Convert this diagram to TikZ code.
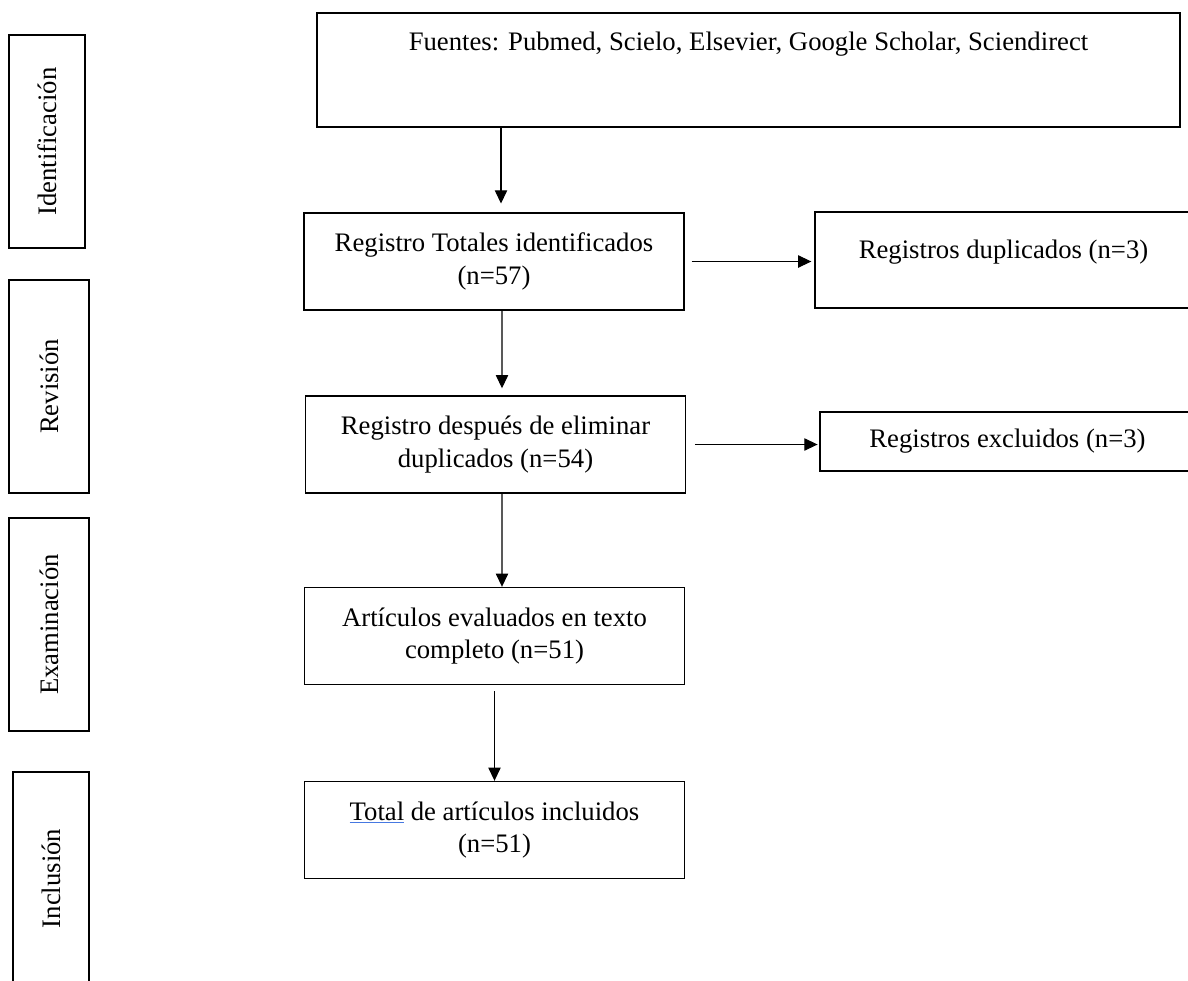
\documentclass[tikz,border=0pt]{standalone}
\usepackage{fontspec}
\setmainfont{Liberation Serif}
\usepackage{xcolor}
\usepackage{tikz}
\usetikzlibrary{arrows.meta}
\definecolor{subrayado}{RGB}{70,120,225}

\begin{document}
\begin{tikzpicture}[x=0.02cm,y=-0.02cm,
	caja/.style={draw,line width=0.8pt,align=center,inner sep=2pt,font=\fontsize{15.2}{18.7}\selectfont},
	fase/.style={caja,rotate=90,minimum width=4.26cm,minimum height=1.56cm},
	paso/.style={caja,minimum width=7.6cm,minimum height=1.94cm},
	flecha/.style={line width=0.6pt,-{Triangle[length=7.5pt,width=7pt]}}]
	
	\clip (0,0) rectangle (1188,981);
	\fill[white] (0,0) rectangle (1188,981);
	
	% etapas
	\node[fase,minimum height=1.52cm] (ident) at (47,141.5) {Identificación};
	\node[fase,minimum height=1.6cm] (revision) at (49,386.5) {Revisión};
	\node[fase,minimum height=1.6cm] (examen) at (49,624.5) {Examinación};
	\node[fase,minimum height=1.52cm] (inclusion) at (51,878.5) {Inclusión};
	
	% flujo
	\node[caja,minimum width=17.26cm,minimum height=2.28cm] (fuentes) at (748.5,70) {Fuentes: Pubmed, Scielo, Elsevier, Google Scholar, Sciendirect\\ \strut\\[-10pt] \strut};
	\node[paso] (totales) at (494,261.5) {Registro Totales identificados\\(n=57)};
	\node[caja,minimum width=7.54cm,minimum height=1.92cm] (duplicados) at (1003.5,260) {Registros duplicados (n=3)\\[-12pt] \strut};
	\node[paso] (despues) at (495.5,444.5) {Registro después de eliminar\\duplicados (n=54)};
	\node[caja,minimum width=7.5cm,minimum height=1.18cm] (excluidos) at (1007.5,441.5) {Registros excluidos (n=3)};
	\node[paso] (articulos) at (494.5,636) {Artículos evaluados en texto\\completo (n=51)};
	\node[paso] (total) at (494.5,830) {{\color{subrayado}\underline{\color{black}Total}} de artículos incluidos\\(n=51)};
	
	\coordinate (a1) at ([xshift=0.14cm]totales.north);
	
	\draw[flecha,shorten >=5pt] (a1 |- fuentes.south) -- (a1);
	\draw[flecha,shorten >=4pt] ([xshift=0.16cm]totales.south) -- ([xshift=0.13cm]despues.north);
	\draw[flecha] ([xshift=0.13cm]despues.south) -- ([xshift=0.15cm]articulos.north);
	\draw[flecha,shorten <=3.4pt] (articulos.south) -- (total.north);
	\draw[flecha,shorten <=4pt,shorten >=1.7pt] (totales.east) -- (totales.east -| duplicados.west);
	\draw[flecha,shorten <=5pt,shorten >=1pt] (despues.east) -- (despues.east -| excluidos.west);
	
\end{tikzpicture}
\end{document}
